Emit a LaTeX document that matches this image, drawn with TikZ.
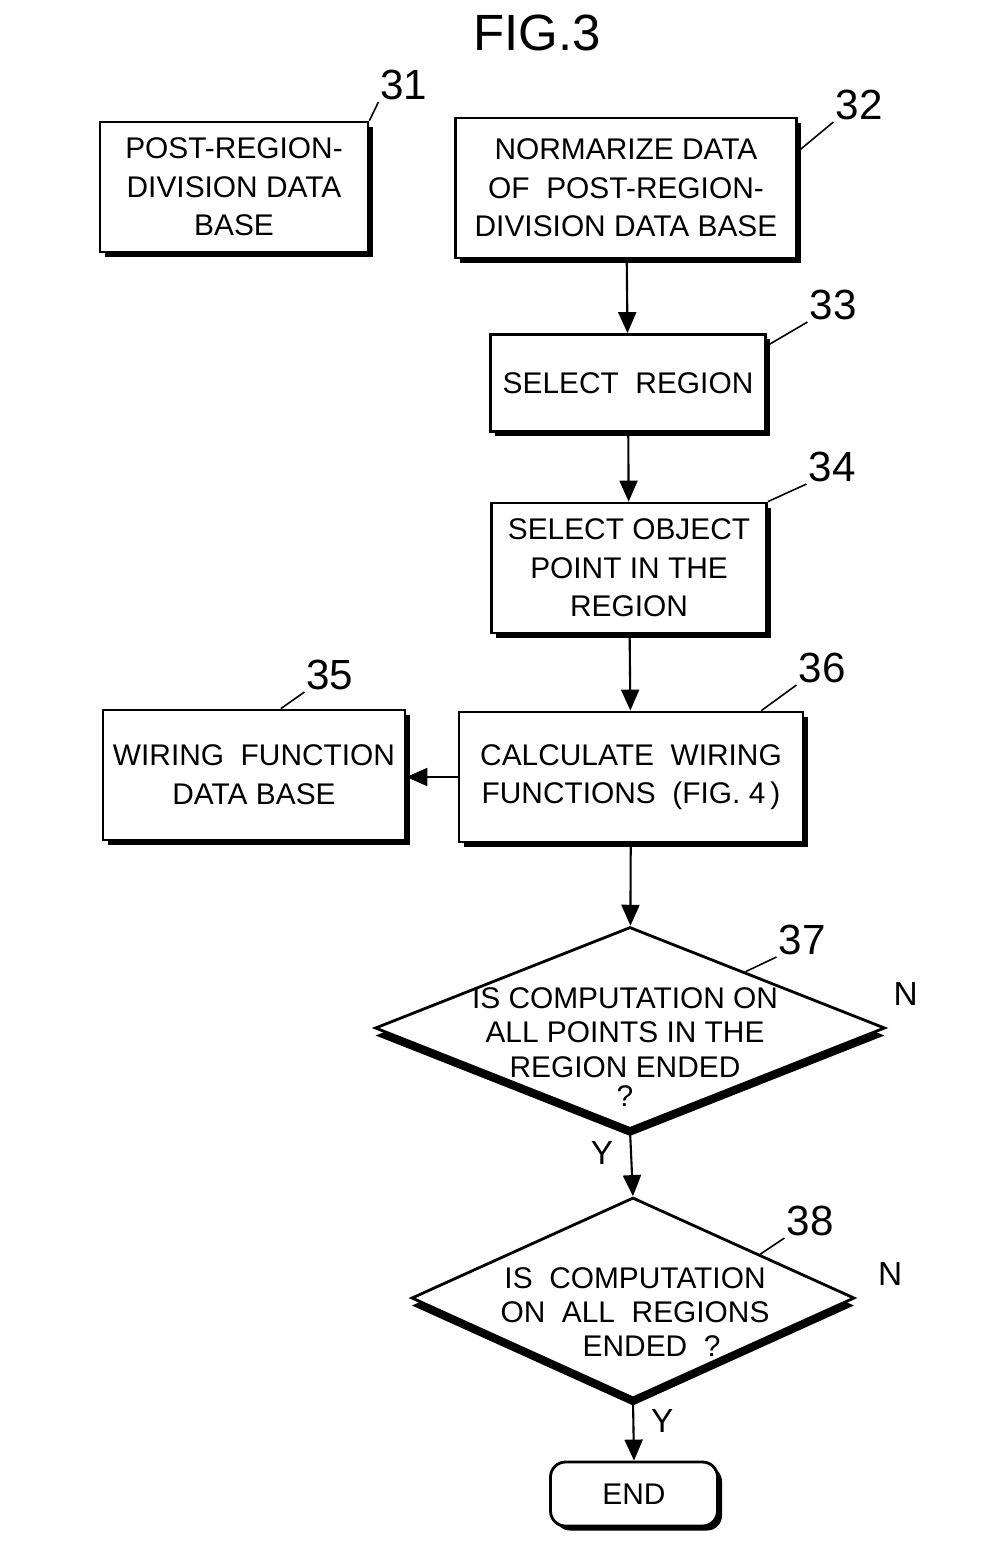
\documentclass[tikz,border=0pt]{standalone}
\usepackage{fontspec}
\setmainfont{Liberation Sans}
\usepackage{tikz}
\usetikzlibrary{shapes.geometric, arrows.meta, positioning, shadows}

\tikzset{
  stepbox/.style={draw, line width=1.6pt, fill=white, align=center, inner sep=2pt,
    font=\fontsize{17}{22}\selectfont,
    drop shadow={shadow xshift=0.09cm, shadow yshift=-0.09cm, opacity=1, fill=black}},
  decision/.style={draw, shape=diamond, line width=1.6pt, fill=white, inner sep=0pt,
    drop shadow={shadow xshift=0cm, shadow yshift=-0.15cm, opacity=1, fill=black}},
  dtext/.style={align=center, inner sep=0pt, font=\fontsize{17}{19.5}\selectfont},
  refnum/.style={inner sep=1pt, font=\fontsize{24}{26}\selectfont},
  yn/.style={inner sep=1pt, font=\fontsize{19}{21}\selectfont},
  flow/.style={line width=1.2pt, -{Triangle[length=0.42cm, width=0.36cm]}},
  leader/.style={line width=0.9pt}
}

\begin{document}
\begin{tikzpicture}
  \useasboundingbox (0,0) rectangle (19.86,-31.06);
  \node[font=\fontsize{29}{31}\selectfont] (title) at (10.74,-0.66) {FIG.3};

  \node[stepbox, minimum width=5.36cm, minimum height=2.60cm] (b31) at (4.68,-3.74)
    {POST-REGION-\\DIVISION DATA\\BASE};
  \node[stepbox, minimum width=6.82cm, minimum height=2.80cm] (b32) at (12.52,-3.76)
    {NORMARIZE DATA\\OF\ \ POST-REGION-\\DIVISION DATA BASE};
  \node[stepbox, minimum width=5.50cm, minimum height=1.94cm] (b33) at (12.56,-7.66)
    {SELECT\ \ REGION};
  \node[stepbox, minimum width=5.50cm, minimum height=2.60cm] (b34) at (12.58,-11.36)
    {SELECT OBJECT\\POINT IN THE\\REGION};
  \node[stepbox, minimum width=6.04cm, minimum height=2.60cm] (b35) at (5.08,-15.50)
    {WIRING\ \ FUNCTION\\DATA BASE};
  \node[stepbox, minimum width=6.88cm, minimum height=2.60cm] (b36) at (12.62,-15.54)
    {CALCULATE\ \ WIRING\\FUNCTIONS\ \ (FIG. 4\,)};

  \node[decision, minimum width=10.20cm, minimum height=4.04cm] (d37) at (12.60,-20.56) {};
  \node[dtext] (t37) at (12.50,-20.94)
    {IS COMPUTATION ON\\ALL POINTS IN THE\\REGION ENDED\\[-3pt]?};
  \node[decision, minimum width=8.86cm, minimum height=4.02cm] (d38) at (12.66,-25.96) {};
  \node[dtext] (t38) at (12.70,-26.24)
    {IS\ \ COMPUTATION\\ON\ \ ALL\ \ REGIONS\\\ \ \ \ ENDED\ \ ?};

  \node[stepbox, rounded corners=0.3cm, minimum width=3.34cm, minimum height=1.28cm] (end) at (12.68,-29.88) {END};

  \node[refnum] (l31) at (8.08,-1.70) {31};
  \node[refnum] (l32) at (17.18,-2.10) {32};
  \node[refnum] (l33) at (16.66,-6.10) {33};
  \node[refnum] (l34) at (16.64,-9.34) {34};
  \node[refnum] (l35) at (6.60,-13.50) {35};
  \node[refnum] (l36) at (16.44,-13.36) {36};
  \node[refnum] (l37) at (16.04,-18.80) {37};
  \node[refnum] (l38) at (16.20,-24.42) {38};

  \draw[leader] (b31.north east) -- (l31.south west);
  \draw[leader] (b32.12) -- (l32.south west);
  \draw[leader] (b33.15) -- (l33.south west);
  \draw[leader] (b34.north east) -- (l34.south west);
  \draw[leader] (b35.68) -- (l35.south west);
  \draw[leader] (b36.27) -- (l36.south west);
  \draw[leader] (d37.26) -- (l37.south west);
  \draw[leader] (d38.19) -- (l38.south west);

  \draw[flow] (b32) -- (b33);
  \draw[flow] (b33) -- (b34);
  \draw[flow] (b34) -- (b36);
  \draw[flow] (b36.west) -- (b36.west -| b35.east);
  \draw[flow] (b36) -- (d37);
  \draw[flow] (d37.south) -- node[yn, pos=0.35, left=0.3cm] (y37) {Y} (d38.north);
  \draw[flow] (d38.south) -- node[yn, pos=0.35, right=0.3cm] (y38) {Y} (end.north);

  \node[yn, above right=0.4cm and 0.1cm of d37.east] (n37) {N};
  \node[yn, above right=0.2cm and 0.4cm of d38.east] (n38) {N};
\end{tikzpicture}
\end{document}
